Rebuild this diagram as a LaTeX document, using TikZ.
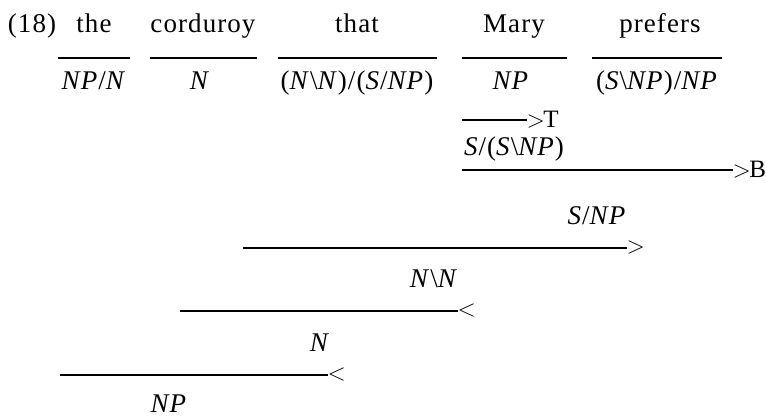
\documentclass[tikz,border=0pt]{standalone}
\usepackage{fontspec}
\setmainfont{Liberation Serif}[LetterSpace=4]
\newfontfamily\opfont{Liberation Serif}
\usetikzlibrary{positioning}

\newcommand{\ct}[1]{\textit{#1}}
\newcommand{\bsl}{\textbackslash}
\newcommand{\fwd}{\kern-1pt$>$\kern-0.8pt}
\newcommand{\bwd}{\kern-1pt$<$}

\begin{document}
\begin{tikzpicture}[x=0.5pt, y=-0.5pt,
    every node/.style={font=\fontsize{13.5}{16}\selectfont, inner sep=0pt},
    word/.style={anchor=base},
    catlabel/.style={anchor=base},
    derivbar/.style={line width=1.1pt},
    opname/.style={anchor=west, inner sep=0.3pt, font=\opfont\fontsize{12.5}{15}\selectfont}
]
    \useasboundingbox (0,0) rectangle (766,416);

    % Example number and words
    \node[word] (num) at (32,33) {(18)};
    \node[word] (the) at (94,33) {the};
    \node[word] (corduroy) at (203,33) {corduroy};
    \node[word] (that) at (357,33) {that};
    \node[word] (mary) at (514,33) {Mary};
    \node[word] (prefers) at (660,33) {prefers};

    % Lexical bars
    \draw[derivbar] (58,58) -- (130,58);
    \draw[derivbar] (150,58) -- (257,58);
    \draw[derivbar] (278,58) -- (437,58);
    \draw[derivbar] (462,58) -- (567,58);
    \draw[derivbar] (592,58) -- (722,58);

    % Lexical categories
    \node[catlabel] (c-the) at (94,90) {\ct{NP}/\ct{N}};
    \node[catlabel] (c-corduroy) at (200,90) {\ct{N}};
    \node[catlabel] (c-that) at (357,90) {(\ct{N}\bsl\ct{N})/(\ct{S}/\ct{NP})};
    \node[catlabel] (c-mary) at (511,90) {\ct{NP}};
    \node[catlabel] (c-prefers) at (657,90) {(\ct{S}\bsl\ct{NP})/\ct{NP}};

    % Type raising and composition
    \draw[derivbar] (462,120) -- (527,120) node[opname] (op-t) {\fwd T};
    \node[catlabel] (c-raised) at (514,156) {\ct{S}/(\ct{S}\bsl\ct{NP})};
    \draw[derivbar] (462,170) -- (733,170) node[opname] (op-b) {\fwd B};
    \node[catlabel] (c-comp) at (597,225) {\ct{S}/\ct{NP}};

    % Application steps
    \draw[derivbar] (243,248) -- (627,248) node[opname] (op-fwd) {\fwd};
    \node[catlabel] (c-rel) at (434,288) {\ct{N}\bsl\ct{N}};
    \draw[derivbar] (180,311) -- (458,311) node[opname] (op-bwd1) {\bwd};
    \node[catlabel] (c-noun) at (320,352) {\ct{N}};
    \draw[derivbar] (60,375) -- (328,375) node[opname] (op-bwd2) {\bwd};
    \node[catlabel] (c-np) at (169,413) {\ct{NP}};

\end{tikzpicture}
\end{document}
